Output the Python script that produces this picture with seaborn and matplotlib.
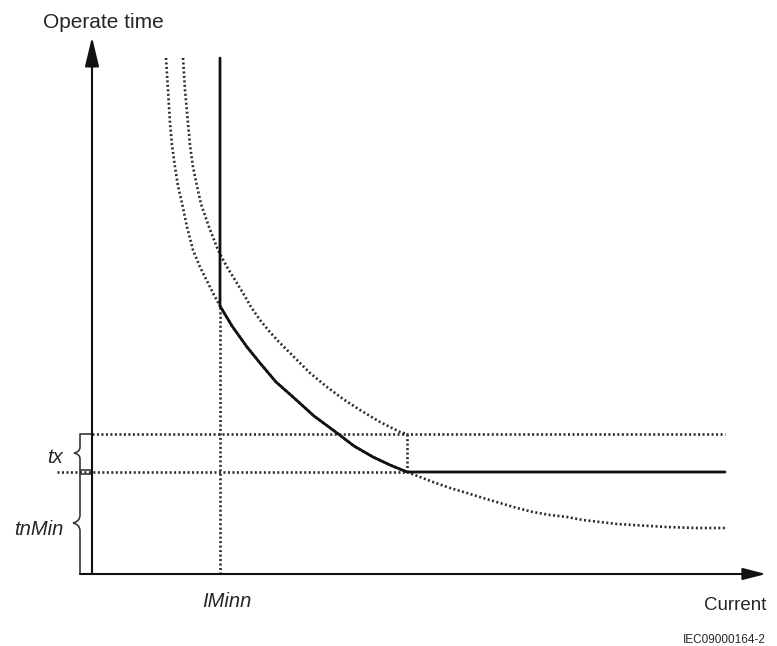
import numpy as np
import matplotlib
matplotlib.use('Agg')
import matplotlib.pyplot as plt
import seaborn as sns
from matplotlib.path import Path
from matplotlib.patches import PathPatch

#chart values (origin = where the two axes meet)
#lower inverse-time curve (dotted)
low_x = [74, 76, 78, 80, 83, 86, 90, 95, 101, 108, 116, 122, 128, 140, 155,
         168, 184, 201, 222, 245, 262, 281, 298, 315, 328, 341, 358, 375,
         391, 408, 425, 441, 458, 475, 491, 508, 525, 541, 558, 575, 604, 633]
low_y = [516, 484, 451, 429, 407, 388, 371, 347, 324, 307, 291, 279, 268,
         248, 227, 211, 192, 177, 158, 141, 128, 117, 109, 102, 97, 92, 86,
         81, 76, 71, 66, 62, 59, 57, 54, 52, 50, 49, 48, 47, 46, 46]
#upper inverse-time curve (dotted), ends at tx level
up_x = [91, 93, 96, 98, 101, 105, 109, 117, 126, 135, 143, 151, 159, 168,
        177, 186, 201, 218, 235, 251, 268, 288, 308, 315]
up_y = [516, 484, 451, 429, 407, 388, 370, 347, 324, 307, 294, 281, 267,
        254, 243, 233, 218, 201, 187, 175, 164, 152, 142, 140]
#resulting operate characteristic (solid)
op_x = [128, 128, 140, 155, 168, 184, 201, 222, 245, 262, 281, 298, 315, 633]
op_y = [516, 268, 248, 227, 211, 192, 177, 158, 141, 128, 117, 109, 102, 102]

i_minn = 128      #IMinn current
i_knee = 315      #where the curve reaches tnMin
tn_min = 102      #tnMin level
tx_top = 140      #tnMin + tx
x_end = 633

#style
sns.set_style('white')
plt.rcParams['font.family'] = ['Liberation Sans', 'DejaVu Sans']
axis_col = '#3a3a3a'
dot_col = '#2a2a2a'
dots = (0, (0.75, 0.95))
dot_lw = 1.9

fig = plt.figure(figsize=(7.77, 6.46), dpi=100)
ax = fig.add_axes([0, 0, 1, 1])
ax.set_xlim(-92, 685)
ax.set_ylim(-72, 574)
ax.axis('off')

#dotted helper lines
ax.plot([0, x_end], [tx_top, tx_top], color=dot_col, lw=dot_lw, ls=dots)
ax.plot([-35, i_knee], [tn_min, tn_min], color=dot_col, lw=dot_lw, ls=dots)
ax.plot([i_minn, i_minn], [0, op_y[1]], color=dot_col, lw=dot_lw, ls=dots)
ax.plot([i_knee, i_knee], [tn_min, tx_top], color=dot_col, lw=dot_lw, ls=dots)

#curves
sns.lineplot(x=low_x, y=low_y, sort=False, estimator=None, ax=ax,
             color=dot_col, lw=dot_lw, ls=dots)
sns.lineplot(x=up_x, y=up_y, sort=False, estimator=None, ax=ax,
             color=dot_col, lw=dot_lw, ls=dots)
sns.lineplot(x=op_x, y=op_y, sort=False, estimator=None, ax=ax,
             color='#111111', lw=2.0)

#axes with arrow heads
ax.annotate('', xy=(0, 537), xytext=(0, 0),
            arrowprops=dict(arrowstyle='-|>,head_length=18,head_width=4.3',
                            mutation_scale=1, lw=1.5, color='#111111',
                            shrinkA=0, shrinkB=0))
ax.annotate('', xy=(674, 0), xytext=(-12, 0),
            arrowprops=dict(arrowstyle='-|>,head_length=14,head_width=3.6',
                            mutation_scale=1, lw=1.5, color='#111111',
                            shrinkA=0, shrinkB=0))

#small ticks between brace column and axis
ax.plot([-12, 0], [tx_top, tx_top], color=axis_col, lw=1.2)
ax.plot([-12, 0], [tn_min + 2, tn_min + 2], color=axis_col, lw=1.2)
ax.plot([-12, 0], [tn_min - 2, tn_min - 2], color=axis_col, lw=1.2)


def draw_brace(ax, x, y0, y1, depth, curl):
    ym = (y0 + y1) / 2
    verts = [(x, y1), (x, ym + curl), (x, ym + curl * 0.2), (x - depth, ym),
             (x, ym - curl * 0.2), (x, ym - curl), (x, y0)]
    codes = [Path.MOVETO, Path.LINETO, Path.CURVE3, Path.CURVE3,
             Path.CURVE3, Path.CURVE3, Path.LINETO]
    ax.add_patch(PathPatch(Path(verts, codes), fc='none', ec=axis_col, lw=1.2))


draw_brace(ax, -12, tn_min, tx_top, 6, 6)
draw_brace(ax, -12, 0, tn_min, 7, 8)

#labels
ax.text(-49, 546, 'Operate time', fontsize=15, ha='left', va='baseline')
ax.text(674, -36, 'Current', fontsize=13.5, ha='right', va='baseline')
ax.text(674, -69, 'IEC09000164-2', fontsize=8.5, ha='right', va='baseline')
ax.text(i_minn + 7, -33, 'IMinn', fontsize=14.5, style='italic',
        ha='center', va='baseline')
ax.text(-29, 111, 'tx', fontsize=14.5, style='italic', ha='right', va='baseline')
ax.text(-29, 39, 'tnMin', fontsize=14.5, style='italic', ha='right', va='baseline')

fig.savefig('out.png', dpi=100)
